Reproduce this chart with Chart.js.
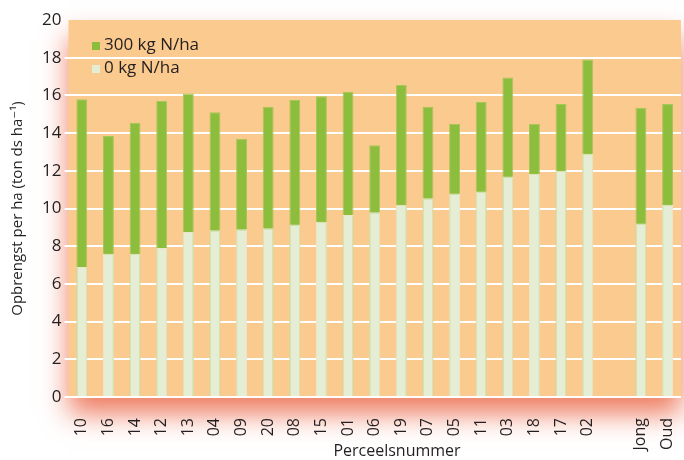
<!DOCTYPE html>
<html>
<head>
<meta charset="utf-8">
<script src="https://cdn.jsdelivr.net/npm/chart.js@4/dist/chart.umd.min.js"></script>
<style>
  html, body { margin: 0; padding: 0; background: #fff; overflow: hidden; width: 684px; height: 460px; }
  canvas { display: block; }
</style>
</head>
<body>
<canvas id="chart" width="700" height="460"></canvas>
<script>
// Data (ton ds per ha)
const categories = ['10', '16', '14', '12', '13', '04', '09', '20', '08', '15', '01', '06', '19', '07', '05', '11', '03', '18', '17', '02', '', 'Jong', 'Oud'];
const n300 = [15.8, 13.85, 14.55, 15.7, 16.1, 15.1, 13.7, 15.4, 15.75, 15.95, 16.2, 13.35, 16.55, 15.4, 14.5, 15.65, 16.95, 14.5, 15.55, 17.9, null, 15.35, 15.55];
const n0 = [6.9, 7.6, 7.6, 7.9, 8.75, 8.85, 8.9, 8.95, 9.15, 9.3, 9.65, 9.8, 10.2, 10.55, 10.8, 10.9, 11.7, 11.85, 12.0, 12.9, null, 9.2, 10.2];
const yTicks = [0, 2, 4, 6, 8, 10, 12, 14, 16, 18, 20];
const legendLabels = ['300 kg N/ha', '0 kg N/ha'];

const FONT = "'Open Sans', 'DejaVu Sans', sans-serif";
const TEXT = '#231f20';
const ORANGE = '#fbca8e';
const GREEN = '#8dbd3c';
const PALE = '#e5edd4';

// orange plot area with the soft red shadow underneath
const plotBg = {
  id: 'plotBg',
  beforeDraw(chart) {
    const { ctx, chartArea: a } = chart;
    ctx.save();
    ctx.shadowColor = 'rgba(236, 110, 80, 0.9)';
    ctx.shadowBlur = 26;
    ctx.shadowOffsetY = 17;
    ctx.fillStyle = ORANGE;
    ctx.fillRect(a.left, a.top, a.right - a.left, a.bottom - a.top);
    ctx.restore();
  }
};

// legend inside the plot + x axis title
const overlay = {
  id: 'overlay',
  afterDraw(chart) {
    const { ctx } = chart;
    ctx.save();
    ctx.font = '17px ' + FONT;
    ctx.textBaseline = 'alphabetic';
    [GREEN, PALE].forEach((col, i) => {
      const y = 42 + i * 23;
      ctx.fillStyle = col;
      ctx.fillRect(92, y, 8, 8);
      ctx.fillStyle = TEXT;
      ctx.fillText(legendLabels[i], 104, y + 8);
    });
    ctx.font = '16px ' + FONT;
    ctx.textAlign = 'center';
    ctx.textBaseline = 'middle';
    ctx.fillText('Perceelsnummer', 397, 451);
    ctx.restore();
  }
};

new Chart(document.getElementById('chart'), {
  type: 'bar',
  data: {
    labels: categories,
    datasets: [
      { label: legendLabels[1], data: n0, backgroundColor: PALE, borderColor: '#ede6c6', borderWidth: 1, grouped: false },
      { label: legendLabels[0], data: n300, backgroundColor: GREEN, borderColor: '#a6c75a', borderWidth: 1, grouped: false }
    ]
  },
  options: {
    responsive: false,
    animation: false,
    layout: { padding: { top: 20, right: 11, left: 0, bottom: 0 } },
    datasets: { bar: { categoryPercentage: 1, barPercentage: 0.41 } },
    plugins: { legend: { display: false }, tooltip: { enabled: false } },
    scales: {
      x: {
        afterFit(scale) { scale.height = 63; },
        grid: { display: false },
        border: { display: false },
        ticks: {
          autoSkip: false, minRotation: 90, maxRotation: 90, padding: 13,
          color: TEXT, font: { family: FONT, size: 16 }
        }
      },
      y: {
        min: 0, max: 20,
        afterFit(scale) { scale.width = 68.5; },
        afterBuildTicks(scale) { scale.ticks = yTicks.map(v => ({ value: v })); },
        border: { display: false },
        grid: {
          color: ctx => (ctx.tick && ctx.tick.value === 20) ? 'rgba(0,0,0,0)' : '#ffffff',
          lineWidth: 2, tickLength: 4
        },
        ticks: { padding: 3, color: TEXT, font: { family: FONT, size: 17 } },
        title: {
          display: true, text: 'Opbrengst per ha (ton ds ha⁻¹)',
          color: TEXT, font: { family: FONT, size: 15 }, padding: { top: 9, bottom: 0 }
        }
      }
    }
  },
  plugins: [plotBg, overlay]
});
</script>
</body>
</html>
